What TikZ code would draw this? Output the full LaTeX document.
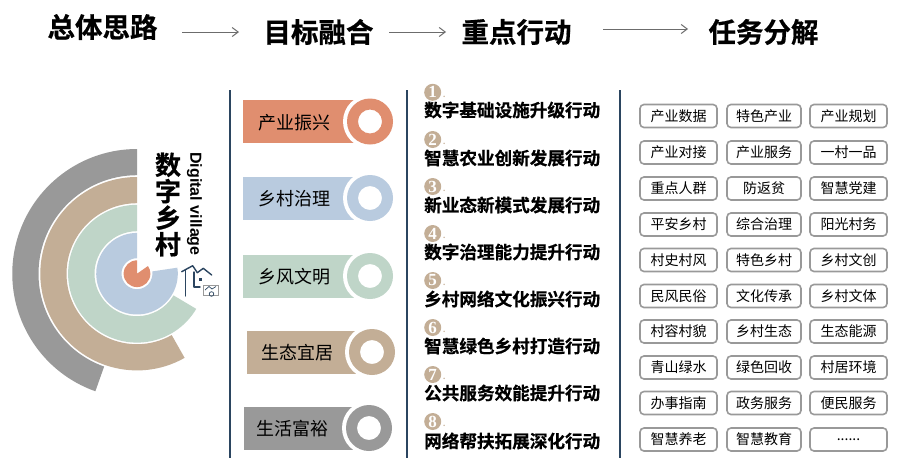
\documentclass[tikz,border=0pt]{standalone}
\usepackage{fontspec}
\setmainfont{Noto Sans CJK SC}[BoldFont={Noto Sans CJK SC Bold},BoldFeatures={FakeBold=0.6}]
\newfontfamily\latinbold{Liberation Sans Bold}
\newfontfamily\numfont{Liberation Serif Bold}
\definecolor{cred}{HTML}{E08E6F}
\definecolor{cblue}{HTML}{B9CBDF}
\definecolor{cgreen}{HTML}{BFD5C8}
\definecolor{ctan}{HTML}{C3AE96}
\definecolor{cgray}{HTML}{999999}
\definecolor{cnavy}{HTML}{2B4560}
\usetikzlibrary{arrows.meta}
\tikzset{
  title/.style={font=\fontsize{27.5}{30}\selectfont\bfseries,text=black,inner sep=0pt},
  flow/.style={draw=gray!85!black,line width=1pt,-{Straight Barb[length=6pt,width=9pt]}},
  divider/.style={draw=cnavy,line width=2pt},
  bartext/.style={font=\fontsize{18}{20}\selectfont,text=black,inner sep=0pt},
  action/.style={font=\fontsize{17.6}{21}\selectfont\bfseries,text=black,inner sep=0pt,anchor=west},
  numdot/.style={circle,fill=ctan,minimum size=17pt,inner sep=0pt,text=white,font=\numfont\fontsize{17}{17}\selectfont},
  dotmark/.style={font=\numfont\fontsize{9}{9}\selectfont,text=ctan,inner sep=0pt},
  task/.style={draw=cgray,line width=1.6pt,rounded corners=4pt,minimum height=23pt,inner sep=0pt,font=\fontsize{14}{16}\selectfont,text=black},
  icon/.style={draw=cnavy,line width=1.4pt,line cap=round,line join=round}
}
\newcommand{\taskdots}{......}
\newcommand{\ringsector}[4]{%
  \fill[#1] (137,273.7) ++(90:#3pt) arc[start angle=90,end angle=#2,radius=#3pt]
     -- ++(#2:{(#4-#3)*1pt}) arc[start angle=#2,end angle=90,radius=#4pt] -- cycle;}
\newcommand{\banner}[7]{% name, colour, xleft, ymid, circle x, text x, text
  \fill[#2] (#3,#4-21.5) rectangle (#5,#4+21.5);
  \fill[white] (#5,#4) circle[radius=27pt];
  \fill[#2,even odd rule] (#5,#4) circle[radius=23pt] (#5,#4) circle[radius=12pt];
  \node[bartext] (#1) at (#6,#4+1) {#7};}
\begin{document}
\begin{tikzpicture}[x=1pt,y=-1pt]
\useasboundingbox[fill=white] (0,0) rectangle (899,472);
% titles
\node[title] (t1) at (102.5,27) {总体思路};
\node[title] (t2) at (318.5,32) {目标融合};
\node[title] (t3) at (516.5,32) {重点行动};
\node[title] (t4) at (763.5,32) {任务分解};
\coordinate (a1s) at (182,32); \coordinate (a1e) at (239,32);
\coordinate (a2s) at (389,32); \coordinate (a2e) at (446,32);
\coordinate (a3s) at (603,29); \coordinate (a3e) at (688,29);
\draw[flow] (a1s) -- (a1e);
\draw[flow] (a2s) -- (a2e);
\draw[flow] (a3s) -- (a3e);
% dividers
\coordinate (d1t) at (230,90); \coordinate (d1b) at (230,458);
\coordinate (d2t) at (407,90); \coordinate (d2b) at (407,458);
\coordinate (d3t) at (620,90); \coordinate (d3b) at (620,458);
\draw[divider] (d1t) -- (d1b);
\draw[divider] (d2t) -- (d2b);
\draw[divider] (d3t) -- (d3b);
% rings
\ringsector{cgray}{250.5}{98.5}{124.7}
\ringsector{ctan}{299.5}{70.5}{96.7}
\ringsector{cgreen}{329.3}{42.5}{68.9}
\ringsector{cblue}{368.5}{15.5}{40.8}
\fill[cred] (137,273.7) -- ++(90:13.4pt) arc[start angle=90,end angle=395,radius=13.4pt] -- cycle;
\node[inner sep=0pt,align=center,font=\fontsize{26}{26.5}\selectfont\bfseries] (cn) at (168,204.5) {数\\字\\乡\\村};
\node[inner sep=0pt,rotate=-90,font=\latinbold\fontsize{16}{16}\selectfont] (en) at (194.5,204) {Digital village};
% icon
\draw[icon] (185.7,270) -- (185.7,296);
\draw[icon] (181.7,271.7) -- (192.7,265.7) -- (197.3,272.7) -- (203.3,268.3) -- (211.7,275);
\draw[icon] (194,272) -- (194,287) -- (200,287);
\fill[cnavy] (199,277.5) rectangle (202,281);
\draw[cgray,line width=1pt] (203.3,285) rectangle (218.3,295);
\draw[cnavy,line width=.7pt] (205,290) -- (209,286.5) -- (212,289) -- (216,286.5);
\draw[cnavy,line width=.7pt] (211.5,294) circle[radius=2.3pt];
% banners
\banner{b1}{cred}{243}{121.5}{370}{294}{产业振兴}
\banner{b2}{cblue}{243}{198}{370}{294}{乡村治理}
\banner{b3}{cgreen}{243}{276}{370}{294.5}{乡风文明}
\banner{b4}{ctan}{247}{352}{372}{297}{生态宜居}
\banner{b5}{cgray}{244}{428}{369}{292}{生活富裕}
% actions
\foreach \n/\yc/\yt/\s in {1/92.3/110/数字基础设施升级行动,2/139.5/158/智慧农业创新发展行动,3/186.5/205/新业态新模式发展行动,4/233.5/252/数字治理能力提升行动,5/280.5/299/乡村网络文化振兴行动,6/327.5/346/智慧绿色乡村打造行动,7/374.5/393/公共服务效能提升行动,8/421.5/441/网络帮扶拓展深化行动}{
  \node[numdot] (n\n) at (432.7,\yc) {\n};
  \node[dotmark,anchor=base west] (m\n) at (443,\yc+5) {.};
  \node[action] (act\n) at (424,\yt) {\s};
}
% tasks
\foreach \r/\yc/\p/\q/\u in {
 1/116/产业数据/特色产业/产业规划,
 2/152.5/产业对接/产业服务/一村一品,
 3/188.5/重点人群/防返贫/智慧党建,
 4/224.5/平安乡村/综合治理/阳光村务,
 5/260/村史村风/特色乡村/乡村文创,
 6/296/民风民俗/文化传承/乡村文体,
 7/331.5/村容村貌/乡村生态/生态能源,
 8/367.5/青山绿水/绿色回收/村居环境,
 9/403/办事指南/政务服务/便民服务,
 10/439.5/智慧养老/智慧教育/\taskdots}{
  \node[task,minimum width=77pt] (ta\r) at (678.5,\yc) {\p};
  \node[task,minimum width=74pt] (tb\r) at (764,\yc) {\q};
  \node[task,minimum width=77pt] (tc\r) at (848.5,\yc) {\u};
}
\end{tikzpicture}
\end{document}
